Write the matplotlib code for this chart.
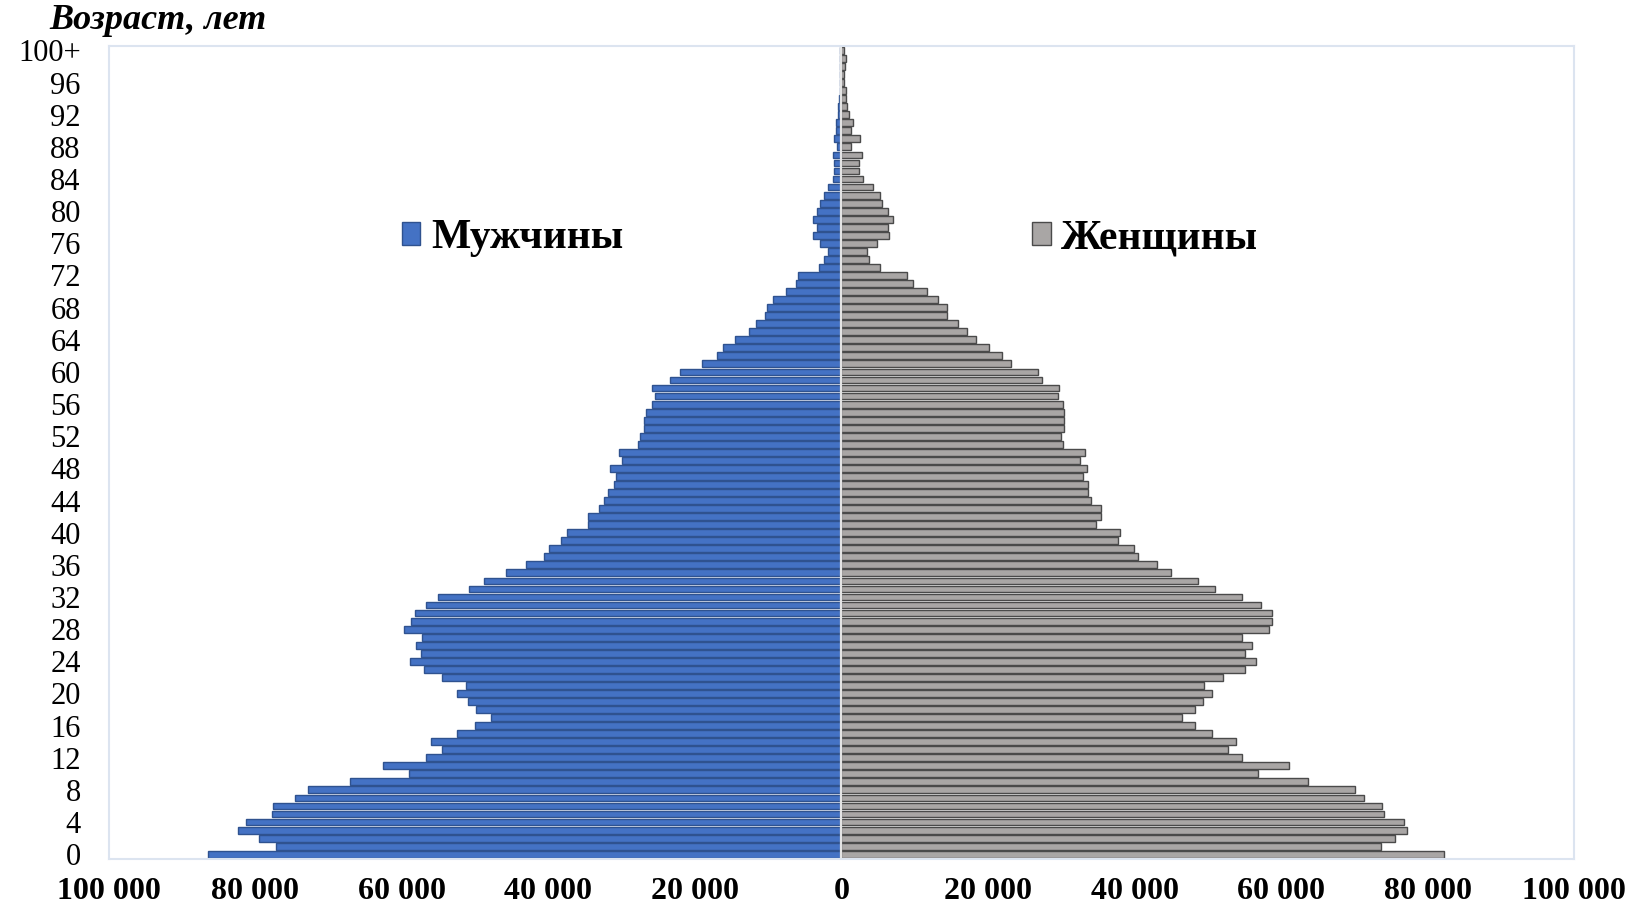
import numpy as np
import matplotlib
matplotlib.use('Agg')
import matplotlib.pyplot as plt

plt.rcParams['font.family'] = ['Liberation Serif', 'DejaVu Serif']

# population by single year of age, 0 .. 100+
ages = list(range(0, 101))
men = [86400, 77200, 79500, 82400, 81200, 77700, 77500, 74500, 72800, 67100,
       59000, 62600, 56700, 54500, 56000, 52400, 50000, 47800, 49800, 51000,
       52500, 51200, 54500, 57000, 58900, 57300, 58000, 57200, 59700, 58700,
       58200, 56700, 55000, 50800, 48800, 45800, 43100, 40600, 39900, 38200,
       37400, 34600, 34600, 33100, 32400, 31900, 31100, 30700, 31600, 29900,
       30400, 27700, 27500, 26900, 26900, 26700, 25900, 25500, 25900, 23400,
       22000, 19000, 17000, 16100, 14500, 12600, 11600, 10400, 10200, 9400,
       7600, 6200, 5900, 3100, 2400, 1800, 2900, 3900, 3400, 3900,
       3400, 2900, 2400, 1900, 1200, 1000, 1000, 1200, 600, 1000,
       700, 800, 500, 500, 400, 250, 200, 200, 200, 200,
       150]
women = [82200, 73600, 75500, 77200, 76800, 74000, 73800, 71300, 70100, 63700,
         56800, 61000, 54700, 52800, 53800, 50600, 48300, 46400, 48300, 49300,
         50500, 49500, 52000, 55000, 56500, 55000, 56000, 54700, 58300, 58700,
         58700, 57300, 54600, 51000, 48600, 44900, 43100, 40400, 39900, 37700,
         38000, 34700, 35400, 35400, 34000, 33700, 33700, 33000, 33500, 32500,
         33200, 30200, 30000, 30400, 30400, 30400, 30200, 29500, 29700, 27300,
         26800, 23100, 21900, 20100, 18300, 17100, 15900, 14400, 14400, 13200,
         11700, 9700, 9000, 5300, 3700, 3500, 4800, 6500, 6400, 7000,
         6400, 5500, 5200, 4300, 3000, 2400, 2400, 2800, 1300, 2500,
         1300, 1600, 1000, 800, 600, 600, 350, 400, 450, 600,
         300]

y_ticks = list(range(0, 101, 4))
y_labels = [str(a) for a in range(0, 97, 4)] + ['100+']
x_ticks = [-100000, -80000, -60000, -40000, -20000, 0, 20000, 40000, 60000, 80000, 100000]
x_labels = ['100 000', '80 000', '60 000', '40 000', '20 000', '0',
            '20 000', '40 000', '60 000', '80 000', '100 000']

fig = plt.figure(figsize=(16.52, 9.10), dpi=100)
ax = fig.add_axes([0.0657, 0.056, 0.8873, 0.893])

bm = ax.barh(ages, -np.array(men), height=0.85, color='#4472C4',
             edgecolor='#2F528F', linewidth=1.0)
bw = ax.barh(ages, women, height=0.85, color='#A9A6A5',
             edgecolor='#4A4A4A', linewidth=1.0)
ax.axvline(0, color='#E4E4E4', linewidth=1.6)

ax.set_xlim(-100000, 100000)
ax.set_ylim(-0.6, 100.5)

ax.set_xticks(x_ticks)
ax.set_xticklabels(x_labels, fontsize=23, fontweight='bold')
ax.set_yticks(y_ticks)
ax.set_yticklabels(y_labels, fontsize=22)
ax.tick_params(axis='both', length=0)
ax.tick_params(axis='x', pad=13)
ax.tick_params(axis='y', pad=20)

for s in ax.spines.values():
    s.set_color('#DCE4F0')
    s.set_linewidth(1.5)

fig.text(0.03, 0.978, 'Возраст, лет', fontsize=26, fontweight='bold',
         fontstyle='italic', va='center', ha='left')

leg_style = dict(loc='center left', frameon=False, prop={'size': 30, 'weight': 'bold'},
                 handlelength=0.45, handleheight=0.45, handletextpad=0.25,
                 borderpad=0, borderaxespad=0)
leg1 = ax.legend([bm], ['Мужчины'], bbox_to_anchor=(0.2, 0.764), **leg_style)
ax.add_artist(leg1)
ax.legend([bw], ['Женщины'], bbox_to_anchor=(0.63, 0.764), **leg_style)

fig.savefig('out.png', dpi=100)
